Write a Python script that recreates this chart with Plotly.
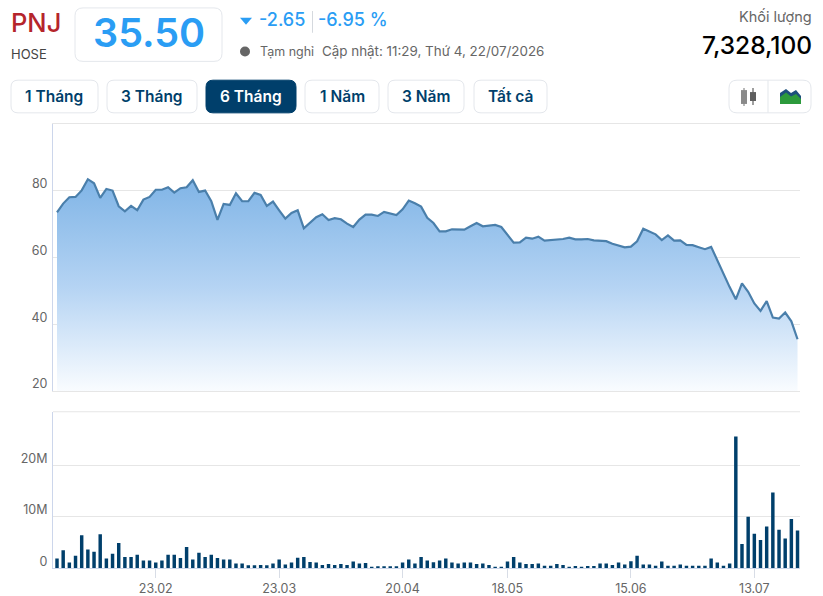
import plotly.graph_objects as go

W = 823
H = 596

# closing price, one per trading day
prices = [73.5, 76.1, 78.0, 78.1, 80.05, 83.4, 82.2, 77.8, 80.5, 80.0,
          75.3, 73.8, 75.4, 74.1, 77.3, 78.1, 80.25, 80.25, 81.0, 79.4,
          80.7, 81.0, 83.1, 79.6, 80.0, 76.8, 71.2, 76.0, 75.7, 79.2,
          76.8, 76.8, 79.3, 78.7, 75.4, 76.7, 74.1, 71.6, 73.3, 74.1,
          68.7, 70.3, 72.0, 72.9, 71.2, 71.75, 71.4, 70.1, 69.1, 71.3,
          72.8, 72.8, 72.4, 73.6, 73.1, 72.7, 74.4, 77.0, 76.2, 75.2,
          71.85, 70.3, 67.8, 67.8, 68.4, 68.3, 68.3, 69.3, 70.3, 69.3,
          69.6, 69.7, 69.1, 66.9, 64.4, 64.5, 65.9, 65.6, 66.2, 65.0,
          65.1, 65.4, 65.5, 65.9, 65.4, 65.4, 65.5, 65.1, 64.9, 64.85,
          64.1, 63.5, 63.0, 63.2, 64.8, 68.6, 67.8, 66.9, 65.2, 66.6,
          65.0, 65.1, 63.75, 63.65, 63.05, 62.45, 63.15, 59.0, 54.85, 51.1,
          47.45, 52.2, 49.7, 46.2, 44.0, 46.9, 42.0, 41.7, 43.5, 40.85, 35.5]

# volume in millions of shares
volumes = [1.9, 3.5, 1.1, 2.4, 6.4, 3.65, 3.2, 6.6, 1.9, 2.8,
           4.9, 2.2, 2.2, 2.6, 1.5, 1.5, 1.1, 1.5, 2.6, 2.6,
           2.0, 4.1, 1.7, 3.0, 2.2, 2.6, 2.0, 1.7, 1.7, 0.9,
           0.9, 0.6, 0.6, 0.65, 0.6, 0.9, 1.7, 0.7, 1.1, 2.05,
           2.2, 1.2, 1.1, 0.65, 0.8, 0.65, 0.8, 0.65, 1.3, 0.9,
           1.0, 0.25, 0.4, 0.4, 0.4, 0.4, 1.1, 1.7, 0.9, 2.2,
           1.5, 1.15, 1.5, 1.9, 1.1, 0.9, 1.1, 1.1, 0.8, 0.9,
           0.65, 0.3, 0.3, 1.3, 2.2, 1.1, 0.8, 0.8, 0.9, 0.5,
           0.5, 0.8, 0.65, 0.25, 0.45, 0.3, 0.45, 0.45, 0.9, 0.9,
           0.65, 1.1, 0.7, 1.35, 2.4, 0.7, 0.7, 0.5, 1.3, 0.5,
           0.5, 0.7, 0.5, 0.5, 0.5, 0.5, 1.9, 1.1, 0.5, 0.9,
           25.6, 4.7, 10.0, 6.7, 5.5, 8.1, 14.7, 7.5, 5.8, 9.55, 7.33]

days = list(range(len(prices)))

date_ticks = [16, 36, 56, 73, 93, 113]
date_labels = ["23.02", "23.03", "20.04", "18.05", "15.06", "13.07"]

price_ticks = [20, 40, 60, 80]
volume_ticks = [0, 10, 20]
volume_labels = ["0", "10M", "20M"]

buttons = [("1 Tháng", 11, 98), ("3 Tháng", 107, 197), ("6 Tháng", 206, 296),
           ("1 Năm", 305, 379), ("3 Năm", 388, 464), ("Tất cả", 474, 547)]

NAVY = "#003f6b"
BLUE = "#2a9df4"
FONT = "Inter"


def px(x):
    return x / W


def py(y):
    return 1 - y / H


def rounded(x0, y0, x1, y1, r):
    # rounded box given in page pixels
    pts = [
        f"M {px(x0 + r)} {py(y0)}", f"L {px(x1 - r)} {py(y0)}",
        f"Q {px(x1)} {py(y0)} {px(x1)} {py(y0 + r)}", f"L {px(x1)} {py(y1 - r)}",
        f"Q {px(x1)} {py(y1)} {px(x1 - r)} {py(y1)}", f"L {px(x0 + r)} {py(y1)}",
        f"Q {px(x0)} {py(y1)} {px(x0)} {py(y1 - r)}", f"L {px(x0)} {py(y0 + r)}",
        f"Q {px(x0)} {py(y0)} {px(x0 + r)} {py(y0)}", "Z",
    ]
    return " ".join(pts)


def polygon(points):
    return "M " + " L ".join(f"{px(x)} {py(y)}" for x, y in points) + " Z"


def box(x0, y0, x1, y1, r, fill="#ffffff", line="#e4e7ec"):
    return dict(type="path", xref="paper", yref="paper", path=rounded(x0, y0, x1, y1, r),
                fillcolor=fill, line=dict(color=line, width=1))


def rect(x0, y0, x1, y1, color):
    return dict(type="rect", xref="paper", yref="paper", x0=px(x0), x1=px(x1),
                y0=py(y1), y1=py(y0), fillcolor=color, line=dict(width=0))


def label(text, x, y, size, color, anchor="left", weight=400):
    # annotations sit a couple of px inside their anchor
    shift = {"left": -2, "right": 3, "center": 0}[anchor]
    return dict(text=text, xref="paper", yref="paper", x=px(x), y=py(y), xanchor=anchor,
                yanchor="middle", showarrow=False, xshift=shift,
                font=dict(family=FONT, size=size, color=color, weight=weight))


fig = go.Figure()

fig.add_trace(go.Scatter(
    x=days, y=prices, mode="lines", xaxis="x", yaxis="y",
    line=dict(color="#4a7fab", width=2.2),
    fill="tozeroy",
    fillgradient=dict(type="vertical", start=20, stop=84,
                      colorscale=[[0, "#fbfdff"], [0.5, "#b4d3f3"], [1, "#7fb4e6"]]),
))
fig.add_trace(go.Bar(x=days, y=volumes, xaxis="x2", yaxis="y2", marker=dict(color=NAVY, line_width=0), width=0.56))

shapes = []
shapes.append(box(75, 8, 222, 62, 8))
for text, x0, x1 in buttons:
    if text == "6 Tháng":
        shapes.append(box(x0, 81, x1, 114, 7, fill=NAVY, line=NAVY))
    else:
        shapes.append(box(x0, 81, x1, 114, 7))
shapes.append(box(729, 81, 811, 114, 8))
shapes.append(rect(767.5, 81, 768.5, 114, "#e4e7ec"))
shapes.append(rect(312, 11, 313, 33, "#d5d9de"))
shapes.append(dict(type="path", xref="paper", yref="paper", path=polygon([(240, 18), (252, 18), (246, 25)]),
                   fillcolor=BLUE, line=dict(width=0)))
shapes.append(dict(type="circle", xref="paper", yref="paper", x0=px(240), x1=px(250), y0=py(57), y1=py(47),
                   fillcolor="#666666", line=dict(width=0)))
# top edge of the volume panel
shapes.append(rect(53, 415.5, 800, 416.5, "#e6e6e6"))

# candle icon
for cx, top, bottom, wick_top, wick_bot, col in [(744, 91, 105, 89, 107, "#8a8a8a"), (753, 93, 102, 89, 106, "#5f5f5f")]:
    shapes.append(rect(cx - 0.6, wick_top, cx + 0.6, wick_bot, col))
    shapes.append(rect(cx - 3, top, cx + 3, bottom, col))

# mountain icon
shapes.append(dict(type="path", xref="paper", yref="paper",
                   path=polygon([(780, 94), (786, 90), (791, 94), (796, 91), (801, 97), (801, 104), (780, 104)]),
                   fillcolor="#1d4f7c", line=dict(width=0)))
shapes.append(dict(type="path", xref="paper", yref="paper",
                   path=polygon([(780, 98), (786, 93.5), (791, 97.5), (796, 95), (801, 100), (801, 105), (780, 105)]),
                   fillcolor="#2c9a3c", line=dict(width=0)))

annotations = [
    label("PNJ", 11, 23, 25.5, "#b5252b", weight=500),
    label("HOSE", 11, 55, 13, "#444444"),
    label("35.50", 149, 33, 39.5, BLUE, anchor="center", weight=600),
    label("-2.65", 259, 20, 18, BLUE, weight=500),
    label("-6.95 %", 318, 20, 18, BLUE, weight=500),
    label("Tạm nghỉ", 260, 52, 12.5, "#666666"),
    label("Cập nhật: 11:29, Thứ 4, 22/07/2026", 322, 52, 13.4, "#666666"),
    label("Khối lượng", 811, 17, 14.5, "#666666", anchor="right"),
    label("7,328,100", 811, 45, 24.5, "#000000", anchor="right", weight=500),
]
for text, x0, x1 in buttons:
    color = "#ffffff" if text == "6 Tháng" else NAVY
    annotations.append(label(text, (x0 + x1) / 2, 97.5, 15.5, color, anchor="center", weight=600))

x_range = [-0.65, 120.4]
tick_font = dict(family=FONT, size=12.5, color="#666666")

fig.update_layout(
    width=W, height=H,
    margin=dict(l=0, r=0, t=0, b=0),
    paper_bgcolor="#ffffff", plot_bgcolor="#ffffff",
    showlegend=False,
    shapes=shapes,
    annotations=annotations,
    font=dict(family=FONT),
    xaxis=dict(domain=[px(53), px(800)], range=x_range, anchor="y", showticklabels=False,
               showgrid=False, zeroline=False, tickvals=[], showline=True, mirror=True,
               linecolor="#e6e6e6", linewidth=1),
    yaxis=dict(domain=[py(395), py(125)], range=[20, 100], tickvals=price_ticks,
               gridcolor="#e6e6e6", gridwidth=1, zeroline=False, showline=True, linecolor="#ccd6eb",
               linewidth=1, tickfont=tick_font, ticklabelshift=-7, ticklabelstandoff=2),
    xaxis2=dict(domain=[px(53), px(800)], range=x_range, anchor="y2", tickvals=date_ticks, ticktext=date_labels,
                showgrid=False, zeroline=False, showline=True, linecolor="#ccd6eb", linewidth=1,
                ticks="outside", ticklen=9, tickcolor="#d8dde6", tickfont=tick_font),
    yaxis2=dict(domain=[py(574), py(416)], range=[0, 30.4], tickvals=volume_ticks, ticktext=volume_labels,
                gridcolor="#e6e6e6", gridwidth=1, zeroline=False, showline=True, linecolor="#ccd6eb",
                linewidth=1, tickfont=tick_font, ticklabelshift=-7, ticklabelstandoff=2),
)

# pin the graph to the window corner so the page is exactly the figure
page_css = """
var gd = document.getElementById('{plot_id}');
gd.style.position = 'fixed';
gd.style.top = '0';
gd.style.left = '0';
document.body.style.margin = '0';
document.documentElement.style.overflow = 'hidden';
"""
fig.write_html("out.html", config={"displayModeBar": False}, post_script=page_css)
